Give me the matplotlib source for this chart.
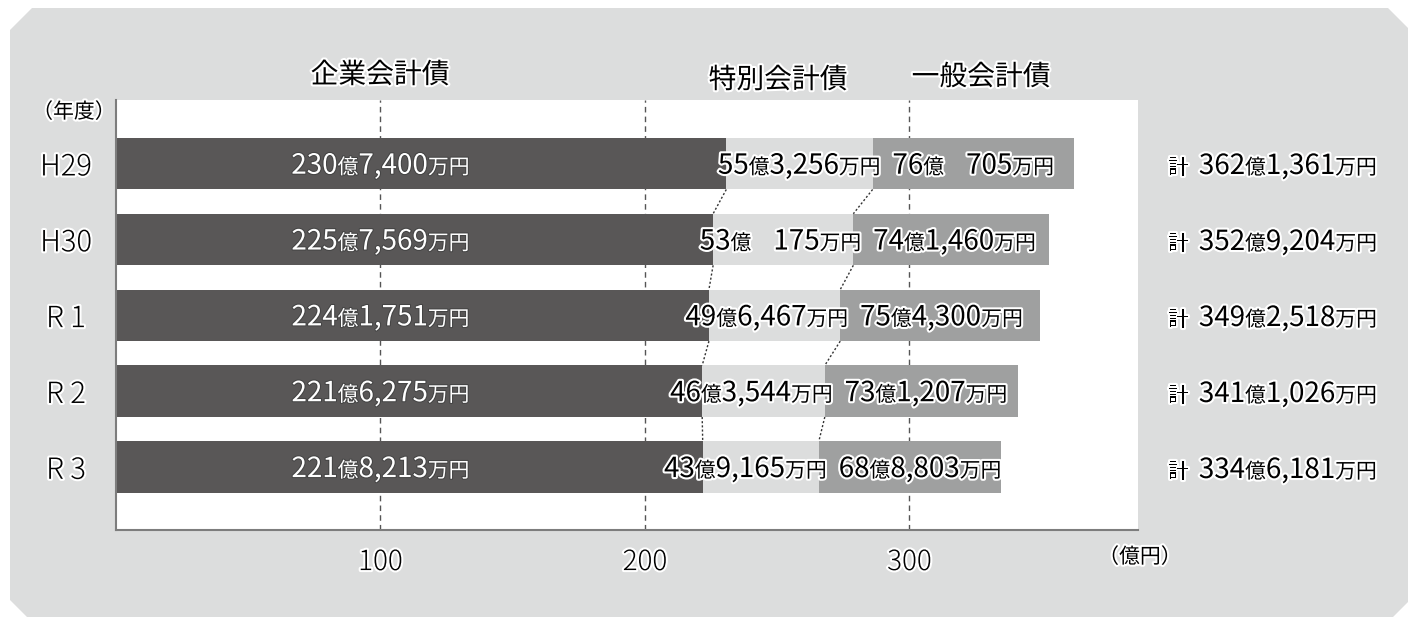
import numpy as np
import matplotlib
matplotlib.use("Agg")
import matplotlib.pyplot as plt
import matplotlib.patheffects as pe
from matplotlib.patches import Polygon
from matplotlib.transforms import offset_copy

# data (万円)
years = ["H29", "H30", "R 1", "R 2", "R 3"]
kigyo = [2307400, 2257569, 2241751, 2216275, 2218213]   # 企業会計債
tokubetsu = [553256, 530175, 496467, 463544, 439165]    # 特別会計債
ippan = [760705, 741460, 754300, 731207, 688803]        # 一般会計債
series_names = ["企業会計債", "特別会計債", "一般会計債"]
xticks = [100, 200, 300]

FONTS = ["Noto Sans CJK JP", "DejaVu Sans"]
BIG = 20
SMALL = 15
W, H = 1408, 617

fig = plt.figure(figsize=(W / 100, H / 100), dpi=100)
fig.patch.set_facecolor("white")

# gray panel with cut corners (pixel coords)
pts = [(10, 30), (32, 8), (1388, 8), (1410, 30), (1410, 600), (1388, 622), (32, 622), (10, 600)]
poly = Polygon([(x / W, 1 - y / H) for x, y in pts], closed=True,
               transform=fig.transFigure, facecolor="#dcdddd", edgecolor="none", zorder=-1)
fig.patches.append(poly)

ax = fig.add_axes([116 / W, 1 - 530 / H, (1138 - 116) / W, (530 - 100) / H])
ax.set_zorder(1)
ax.set_facecolor("white")

y = np.arange(len(years))
k = np.array(kigyo) / 10000
t = np.array(tokubetsu) / 10000
g = np.array(ippan) / 10000
h = 0.68

ax.barh(y, k, height=h, color="#595757", zorder=2)
ax.barh(y, t, left=k, height=h, color="#dcdddd", zorder=2)
ax.barh(y, g, left=k + t, height=h, color="#9fa0a0", zorder=2)

# dotted connectors between rows
for b in [k, k + t]:
    for i in range(len(years) - 1):
        ax.plot([b[i], b[i + 1]], [y[i] + h / 2, y[i + 1] - h / 2],
                ls=(0, (1.5, 1.5)), lw=1, color="#333333", zorder=3)

ax.set_xlim(0, 386.4)
ax.set_ylim(4.83, -0.84)
ax.set_xticks(xticks)
ax.xaxis.grid(True, ls=(0, (4, 3)), lw=1, color="#555555", zorder=1)
ax.set_axisbelow(True)
for s in ["top", "right"]:
    ax.spines[s].set_visible(False)
for s in ["left", "bottom"]:
    ax.spines[s].set_color("#7d7d7d")
    ax.spines[s].set_linewidth(1.5)

halo = [pe.withStroke(linewidth=3, foreground="white")]
ax.tick_params(axis="both", length=0)
ax.set_xticklabels([str(v) for v in xticks], fontsize=BIG, family=FONTS, weight="light",
                   path_effects=halo)
ax.tick_params(axis="x", pad=13)
ax.set_yticks(y)
ax.set_yticklabels(years, fontsize=21, family=FONTS, weight="light", ha="center",
                   path_effects=halo)
ax.tick_params(axis="y", pad=36)

renderer = fig.canvas.get_renderer()


def rich(x, yy, parts, transform, ha="center", color="black", stroke="white", sw=3, base=10):
    # draw text from pieces of different size on one baseline
    items = []
    total = 0
    for p in parts:
        if isinstance(p, (int, float)):
            items.append((None, p))
            total += p
            continue
        s, size = p
        txt = fig.text(0, 0, s, fontsize=size, family=FONTS, color=color,
                       va="baseline", ha="left", transform=transform, zorder=5)
        w = txt.get_window_extent(renderer).width
        items.append((txt, w))
        total += w
    dx = {"left": 0, "center": -total / 2, "right": -total}[ha]
    for txt, w in items:
        if txt is not None:
            txt.set_transform(offset_copy(transform, fig=fig, x=dx, y=-base, units="dots"))
            txt.set_position((x, yy))
            txt.set_path_effects([pe.withStroke(linewidth=sw, foreground=stroke)])
        dx += w


def money(v):
    oku, man = divmod(v, 10000)
    parts = [(str(oku), BIG), ("億", SMALL)]
    if man >= 1000:
        parts.append((f"{man:,}", BIG))
    else:
        parts += [22, (str(man), BIG)]
    parts.append(("万円", SMALL))
    return parts


for i in range(len(years)):
    rich(100, y[i], money(kigyo[i]), ax.transData, ha="center", color="white",
         stroke="#444444", sw=1.5)
    rich(k[i] + t[i] + 3, y[i], money(tokubetsu[i]), ax.transData, ha="right")
    rich(k[i] + t[i] + 7.5, y[i], money(ippan[i]), ax.transData, ha="left")
    total = kigyo[i] + tokubetsu[i] + ippan[i]
    yp = 1 - (164 + 76 * i) / H
    rich(1168 / W, yp, [("計", SMALL), 10] + money(total), fig.transFigure, ha="left")

# series titles
for name, cx, cy in zip(series_names, [380, 778, 981], [75, 80, 77]):
    fig.text(cx / W, 1 - cy / H, name, fontsize=20, family=FONTS, ha="center", va="center",
             path_effects=halo)

fig.text(74 / W, 1 - 112 / H, "（年度）", fontsize=15, family=FONTS, ha="center", va="center",
         path_effects=halo)
fig.text(1140 / W, 1 - 557 / H, "（億円）", fontsize=15, family=FONTS, ha="center", va="center",
         path_effects=halo)

fig.savefig("out.png", dpi=100, facecolor=fig.get_facecolor())
